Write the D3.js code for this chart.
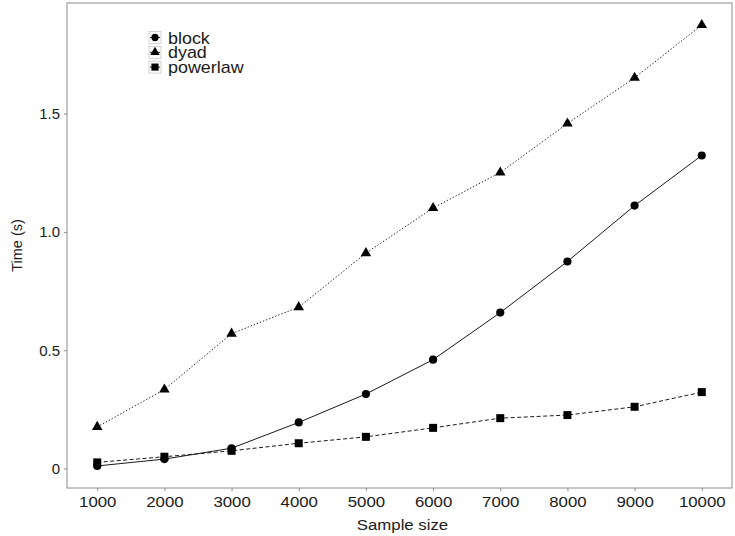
<!DOCTYPE html>
<html>
<head>
<meta charset="utf-8">
<script src="https://cdn.jsdelivr.net/npm/d3@7"></script>
<style>
  body { margin: 0; background: #fff; }
  text { font-family: "Liberation Sans", Arial, sans-serif; fill: #1a1a1a; }
</style>
</head>
<body>
<div id="chart"></div>
<script>
const width = 735, height = 536;
const margin = { top: 3, right: 3, bottom: 48, left: 67 };

// data
const sampleSizes = [1000, 2000, 3000, 4000, 5000, 6000, 7000, 8000, 9000, 10000];
const blockTimes = [0.011, 0.040, 0.086, 0.195, 0.315, 0.460, 0.659, 0.875, 1.111, 1.323];
const dyadTimes = [0.176, 0.334, 0.570, 0.682, 0.910, 1.101, 1.251, 1.458, 1.651, 1.874];
const powerlawTimes = [0.026, 0.050, 0.075, 0.107, 0.134, 0.172, 0.213, 0.226, 0.261, 0.323];
const seriesNames = ['block', 'dyad', 'powerlaw'];
const yTickValues = [0, 0.5, 1, 1.5];
const yTickLabels = ['0', '0.5', '1.0', '1.5'];

const series = [
    { name: 'block', values: blockTimes, shape: d3.symbolCircle, size: 52, dash: null },
    { name: 'dyad', values: dyadTimes, shape: d3.symbolTriangle, size: 48, dash: '1.3,2' },
    { name: 'powerlaw', values: powerlawTimes, shape: d3.symbolSquare, size: 64, dash: '4,2.5' }
];

const stretch = 'scale(1.12,1)'; // reference text is slightly wide

const svg = d3.select('#chart').append('svg')
    .attr('width', width)
    .attr('height', height);

// ggplot-like 5% padding
const allY = [].concat(blockTimes, dyadTimes, powerlawTimes);
const [yMin, yMax] = d3.extent(allY);
const yPad = (yMax - yMin) * 0.05;
const [xMin, xMax] = d3.extent(sampleSizes);
const xPad = (xMax - xMin) * 0.05;

const x = d3.scaleLinear()
    .domain([xMin - xPad, xMax + xPad])
    .range([margin.left, width - margin.right]);

const y = d3.scaleLinear()
    .domain([yMin - yPad, yMax + yPad])
    .range([height - margin.bottom, margin.top]);

// Panel border
svg.append('rect')
    .attr('x', margin.left)
    .attr('y', margin.top)
    .attr('width', width - margin.left - margin.right)
    .attr('height', height - margin.top - margin.bottom)
    .attr('fill', 'none')
    .attr('stroke', '#8c8c8c')
    .attr('stroke-width', 1);

// X Axis
const xAxis = svg.append('g')
    .attr('transform', `translate(0,${height - margin.bottom})`)
    .call(d3.axisBottom(x).tickValues(sampleSizes).tickSize(3).tickPadding(5).tickFormat(d3.format('d')));
xAxis.select('.domain').remove();
xAxis.selectAll('line').attr('stroke', '#8c8c8c');
xAxis.selectAll('text')
    .attr('font-size', 15)
    .attr('font-family', '"Liberation Sans", Arial, sans-serif')
    .attr('fill', '#1a1a1a')
    .attr('transform', stretch);

// Y Axis
const yAxis = svg.append('g')
    .attr('transform', `translate(${margin.left},0)`)
    .call(d3.axisLeft(y).tickValues(yTickValues).tickSize(3).tickPadding(4)
        .tickFormat((d, i) => yTickLabels[i]));
yAxis.select('.domain').remove();
yAxis.selectAll('line').attr('stroke', '#8c8c8c');
yAxis.selectAll('text')
    .attr('font-size', 15)
    .attr('font-family', '"Liberation Sans", Arial, sans-serif')
    .attr('fill', '#1a1a1a');

// Lines and points
const line = d3.line()
    .x((d, i) => x(sampleSizes[i]))
    .y(d => y(d));

series.forEach(s => {
    svg.append('path')
        .datum(s.values)
        .attr('d', line)
        .attr('fill', 'none')
        .attr('stroke', '#1a1a1a')
        .attr('stroke-width', 1)
        .attr('stroke-dasharray', s.dash);

    svg.selectAll(null)
        .data(s.values)
        .enter()
        .append('path')
        .attr('transform', (d, i) => `translate(${x(sampleSizes[i])},${y(d)})`)
        .attr('d', d3.symbol().type(s.shape).size(s.size))
        .attr('fill', '#000');
});

// X Label
svg.append('text')
    .attr('transform', `translate(${(margin.left + width - margin.right) / 2 + 3},529.5) ${stretch}`)
    .attr('text-anchor', 'middle')
    .attr('font-size', 15)
    .text('Sample size');

// Y Label
svg.append('text')
    .attr('transform', `translate(21.5,${(margin.top + height - margin.bottom) / 2}) rotate(-90)`)
    .attr('text-anchor', 'middle')
    .attr('font-size', 14.5)
    .text('Time (s)');

// Legend
const legend = svg.append('g')
    .attr('transform', 'translate(149,37.5)');

series.forEach((s, i) => {
    const row = legend.append('g').attr('transform', `translate(0,${i * 14.8})`);
    row.append('rect')
        .attr('x', 0)
        .attr('y', -6)
        .attr('width', 12)
        .attr('height', 12)
        .attr('fill', '#fff')
        .attr('stroke', '#c8c8c8')
        .attr('stroke-width', 0.8);
    row.append('line')
        .attr('x1', 1)
        .attr('x2', 11)
        .attr('stroke', '#1a1a1a')
        .attr('stroke-width', 1);
    row.append('path')
        .attr('transform', 'translate(6,0)')
        .attr('d', d3.symbol().type(s.shape).size(s.size * 0.8))
        .attr('fill', '#000');
    row.append('text')
        .attr('transform', `translate(19,6) ${stretch}`)
        .attr('font-size', 16)
        .text(seriesNames[i]);
});
</script>
</body>
</html>
